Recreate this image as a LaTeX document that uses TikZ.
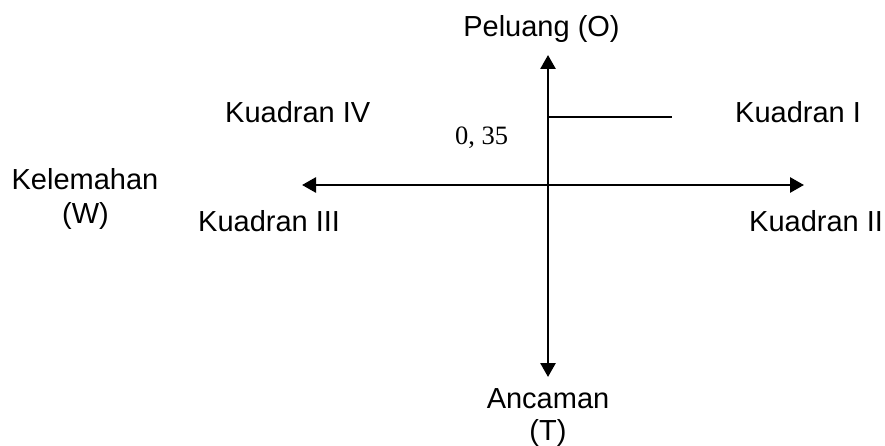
\documentclass[tikz,border=0pt]{standalone}
\usepackage{fontspec}
\setmainfont{Liberation Sans}
\newfontfamily\valuefont{Liberation Serif}
\usetikzlibrary{arrows.meta}

\tikzset{
  lbl/.style={inner sep=0pt, font=\fontsize{29}{34}\selectfont},
  val/.style={inner sep=0pt, font=\valuefont\fontsize{26.5}{30}\selectfont},
  axis/.style={line width=2.7pt, {Triangle[length=14pt,width=15pt]}-{Triangle[length=14pt,width=15pt]}},
  marker/.style={line width=1.3pt}
}

\begin{document}
\begin{tikzpicture}[x=1pt, y=-1pt]
  \useasboundingbox (0,0) rectangle (885,446);

  % axis end points
  \coordinate (otop) at (548,55);
  \coordinate (tbot) at (548,377);
  \coordinate (wleft) at (302,185);
  \coordinate (sright) at (804,185);
  \coordinate (mstart) at (548,117);
  \coordinate (mend) at (672,117);

  % axes
  \draw[axis] (otop) -- (tbot);
  \draw[axis] (wleft) -- (sright);
  \draw[marker] (mstart) -- (mend);

  % axis labels
  \node[lbl, anchor=base] (peluang) at (541.5,37) {Peluang (O)};
  \node[lbl, anchor=base] (ancaman) at (548,408) {Ancaman};
  \node[lbl, anchor=base] (ancamanT) at (548,440) {(T)};
  \node[lbl, anchor=base] (kelemahan) at (85,190) {Kelemahan};
  \node[lbl, anchor=base] (kelemahanW) at (85.5,224) {(W)};

  % quadrant labels
  \node[lbl, anchor=base west] (q4) at (225,123) {Kuadran IV};
  \node[lbl, anchor=base west] (q1) at (735,123) {Kuadran I};
  \node[lbl, anchor=base west] (q3) at (198,232) {Kuadran III};
  \node[lbl, anchor=base west] (q2) at (749,232) {Kuadran II};

  % value on the vertical axis
  \node[val, anchor=base west] (value) at (455,145) {0, 35};
\end{tikzpicture}
\end{document}
